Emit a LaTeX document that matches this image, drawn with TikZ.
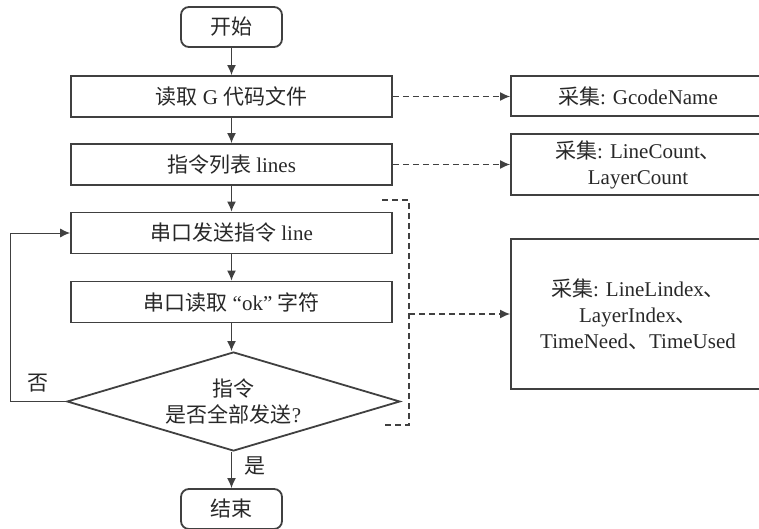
\documentclass[tikz,border=0pt]{standalone}
\usepackage{fontspec}
\setmainfont{Liberation Serif}
\newfontfamily\cjk{Noto Sans CJK SC}
\usepackage{tikz}
\usetikzlibrary{arrows.meta,shapes.geometric}
\definecolor{lnk}{RGB}{64,64,64}
\definecolor{txt}{RGB}{40,40,40}

\begin{document}
\begin{tikzpicture}[x=0.5pt, y=-0.5pt,
      every node/.style={text=txt, font=\fontsize{10.5}{13}\selectfont},
      term/.style={rectangle, rounded corners=4pt, draw=lnk, line width=0.9pt, minimum width=50.5pt, minimum height=20pt, inner sep=0pt},
      box/.style={rectangle, draw=lnk, line width=0.9pt, minimum width=160.5pt, minimum height=20.5pt, inner sep=0pt},
      decide/.style={diamond, aspect=3.36, draw=lnk, line width=0.9pt, minimum width=166.5pt, minimum height=49.5pt, inner sep=0pt, align=center},
      data/.style={rectangle, draw=lnk, line width=0.9pt, minimum width=127pt, inner sep=0pt, align=center},
      arr/.style={-{Latex[length=5pt,width=4.5pt]}, line width=0.7pt, color=lnk},
      dasharr/.style={-{Latex[length=5pt,width=4.5pt]}, dash pattern=on 3pt off 2pt, line width=0.7pt, color=lnk}
    ]
      \useasboundingbox (0,0) rectangle (759,529);
      \clip (0,0) rectangle (759,529);

      % Main flow
      \node[term] (start) at (231.5, 27) {\cjk 开始};
      \node[box] (read) at (231.5, 96.5) {{\cjk 读取} G {\cjk 代码文件}};
      \node[box] (lines) at (231.5, 164.5) {{\cjk 指令列表} lines};
      \node[box] (send) at (231.5, 233) {{\cjk 串口发送指令} line};
      \node[box] (recv) at (231.5, 302) {{\cjk 串口读取} “ok” {\cjk 字符}};
      \node[decide] (done) at (233.5, 401.5) {{\cjk 指令}\\{\cjk 是否全部发送}?};
      \node[term] (stop) at (231.5, 509) {\cjk 结束};

      % Collected data
      \node[data, minimum height=20pt] (getname) at (638, 96) {{\cjk 采集}: GcodeName};
      \node[data, minimum height=30.5pt] (getcount) at (638, 164.5) {{\cjk 采集}: LineCount{\cjk 、}\\LayerCount};
      \node[data, minimum height=75pt] (getstate) at (638, 314) {{\cjk 采集}: LineLindex{\cjk 、}\\LayerIndex{\cjk 、}\\TimeNeed{\cjk 、}TimeUsed};

      % Arrows down the flow
      \draw[arr] (start) -- (read);
      \draw[arr] (read) -- (lines);
      \draw[arr] (lines) -- (send);
      \draw[arr] (send) -- (recv);
      \draw[arr] (recv.south) -- (recv.south |- done.north);
      \draw[arr] (done.south -| stop) -- (stop) node[pos=0.4, right=3pt]{\cjk 是};
      \draw[arr, line width=0.5pt] (done.west) -- ++(-56,0) coordinate (back) |- (send.west);
      \node at (38, 383) {\cjk 否};

      % Dashed links to the collected data
      \draw[dasharr] (read.east) -- (read.east -| getname.west);
      \draw[dasharr] (lines.east) -- (lines.east -| getcount.west);
      \coordinate (brtop) at (409, 200);
      \coordinate (brbot) at (409, 425);
      \draw[dash pattern=on 3pt off 2pt, line width=0.7pt, color=lnk] (382, 200) -- (brtop) -- (brbot) -- (382, 425);
      \draw[dasharr] (getstate.west -| brtop) -- (getstate.west);
    \end{tikzpicture}
\end{document}
